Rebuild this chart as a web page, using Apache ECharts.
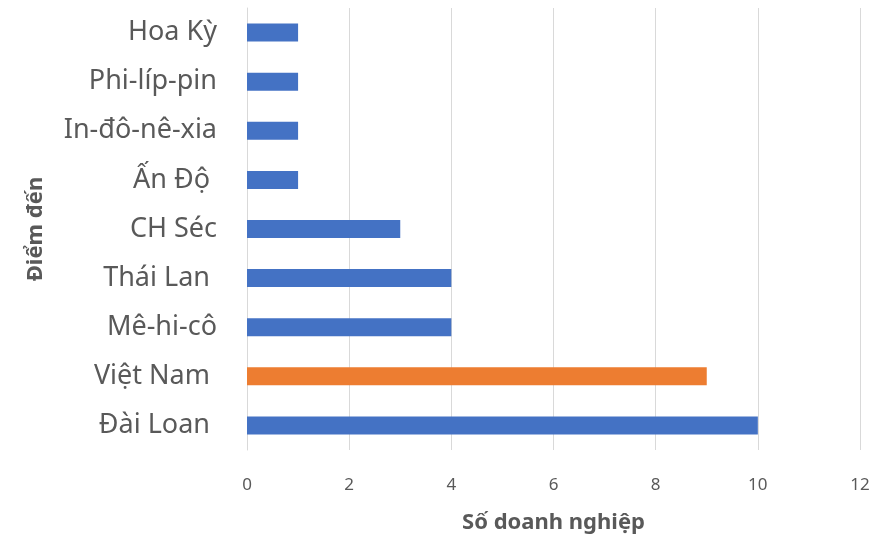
<!DOCTYPE html>
<html><head><meta charset="utf-8">
<script src="https://cdn.jsdelivr.net/npm/echarts@6/dist/echarts.min.js"></script>
<style>html,body{margin:0;padding:0;background:#fff}#c{width:884px;height:539px}</style>
</head><body><div id="c"></div>
<script>
var categories = ['Đài Loan ', 'Việt Nam ', 'Mê-hi-cô', 'Thái Lan ', 'CH Séc', 'Ấn Độ ', 'In-đô-nê-xia', 'Phi-líp-pin', 'Hoa Kỳ'];
var values = [10, 9, 4, 4, 3, 1, 1, 1, 1];
var highlight = 'Việt Nam ';
var xTicks = {min: 0, max: 12, interval: 2};
var xTitle = 'Số doanh nghiệp';
var yTitle = 'Điểm đến';

var chart = echarts.init(document.getElementById('c'), null, {renderer: 'canvas'});
chart.setOption({
  animation: false,
  textStyle: {fontFamily: 'Noto Sans'},
  grid: {left: 247, right: 24, top: 8, bottom: 86, containLabel: false},
  xAxis: {
    type: 'value', min: xTicks.min, max: xTicks.max, interval: xTicks.interval,
    axisLine: {show: false}, axisTick: {show: false},
    splitLine: {show: true, lineStyle: {color: '#d9d9d9', width: 1}},
    axisLabel: {color: '#595959', fontSize: 17, margin: 27, fontFamily: 'Noto Sans'},
    name: xTitle, nameLocation: 'middle', nameGap: 62,
    nameTextStyle: {color: '#595959', fontSize: 22, fontWeight: 'bold', fontFamily: 'Noto Sans'}
  },
  yAxis: {
    type: 'category', data: categories,
    axisLine: {show: true, lineStyle: {color: '#d9d9d9', width: 1}},
    axisTick: {show: false},
    axisLabel: {color: '#595959', fontSize: 27, margin: 30, fontFamily: 'Noto Sans'},
    name: yTitle, nameLocation: 'middle', nameGap: 200, nameRotate: 90,
    nameTextStyle: {color: '#595959', fontSize: 22, fontWeight: 'bold', fontFamily: 'Noto Sans'}
  },
  series: [{
    type: 'bar', barWidth: 18,
    data: values.map(function (v, i) {
      return {value: v, itemStyle: {color: categories[i] === highlight ? '#ed7d31' : '#4472c4'}};
    })
  }]
});
</script></body></html>
